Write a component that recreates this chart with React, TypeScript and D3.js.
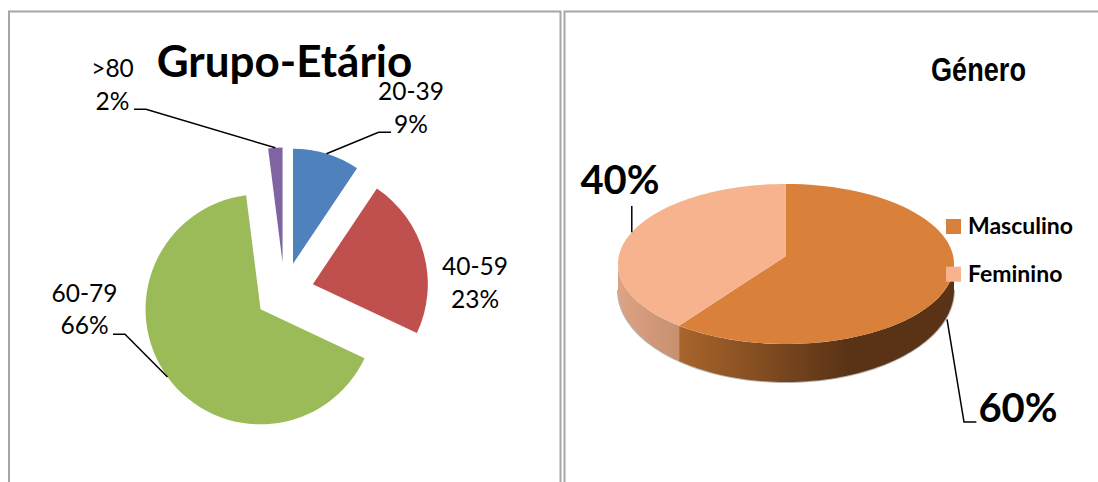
import React, { useEffect, useRef } from 'react';
import * as d3 from 'd3';

// left pie
const ageGroups = ['20-39', '40-59', '60-79', '>80'];
const ageValues = [9.4, 22.6, 66, 2];
const ageLabels = ['9%', '23%', '66%', '2%'];
const ageColors = ['#4f81bd', '#c0504d', '#9bbb59', '#8064a2'];

// right pie
const genders = ['Masculino', 'Feminino'];
const genderValues = [60, 40];
const genderLabels = ['60%', '40%'];
const genderColors = ['#d9803a', '#f6b38d'];

const SANS = 'Lato, Carlito, sans-serif';

export default function App() {
	const svgRef = useRef<SVGSVGElement>(null);

	useEffect(() => {
		const $svg = d3.select(svgRef.current);
		$svg.selectAll('*').remove();
		const defs = $svg.append('defs');

		// frames
		const frame = d3.line();
		[[[9, 482], [9, 11.5], [560.5, 11.5], [560.5, 482]], [[564.5, 482], [564.5, 11.5], [1098, 11.5]]].forEach(pts => {
			$svg.append('path').attr('d', frame(pts as any)).attr('fill', 'none').attr('stroke', '#a6a6a6').attr('stroke-width', 2);
		});

		const addText = (txt, x, y, size, weight = 'normal', anchor = 'middle') =>
			$svg.append('text').text(txt).attr('x', x).attr('y', y)
				.attr('font-family', SANS).attr('font-size', size)
				.attr('font-weight', weight).attr('text-anchor', anchor).attr('fill', '#000');
		const addLeader = pts =>
			$svg.append('path').attr('d', d3.line()(pts)).attr('fill', 'none').attr('stroke', '#000').attr('stroke-width', 1.5);

		// ---- Grupo-Etario ----
		(() => {
			const center = [284.4, 292];
			const radius = 115;
			const explode = 29.5;
			const slices = d3.pie<number>().sort(null).value(d => d)(ageValues);
			const arc = d3.arc().innerRadius(0).outerRadius(radius);
			const labelPos = [
				{ x: 411, y1: 100, y2: 133, elbow: [[378.6, 132.3], [391, 132.3]] },
				{ x: 475, y1: 275, y2: 308, elbow: null },
				{ x: 84.5, y1: 302, y2: 334, elbow: [[125, 334.3], [113, 334.3]] },
				{ x: 112.5, y1: 77, y2: 110, elbow: [[146, 109.3], [134, 109.3]] },
			];

			slices.forEach((s, i) => {
				const mid = (s.startAngle + s.endAngle) / 2;
				const off = d3.pointRadial(mid, explode);
				const apex = [center[0] + off[0], center[1] + off[1]];
				$svg.append('path')
					.attr('d', arc(s as any))
					.attr('transform', `translate(${apex[0]},${apex[1]})`)
					.attr('fill', ageColors[i]);

				const pos = labelPos[i];
				addText(ageGroups[i], pos.x, pos.y1, 24.5);
				addText(ageLabels[i], pos.x, pos.y2, 24.5);
				if (pos.elbow) {
					const rim = d3.pointRadial(mid, radius);
					addLeader([[apex[0] + rim[0], apex[1] + rim[1]], ...pos.elbow]);
				}
			});

			addText('Grupo-Etário', 284.5, 77, 44, 'bold');
		})();

		// ---- Genero ----
		(() => {
			const cx = 786, cy = 264, rx = 168, ry = 80;
			const botCy = 290, botRy = 92;
			const persp = -0.1; // perspective: pie hub sits above the middle of the ellipse

			// pie angle -> angle on the projected ellipse
			const project = a => {
				const u = Math.sin(a), v = -Math.cos(a);
				const d = 1 + persp * v;
				const u2 = u * Math.sqrt(1 - persp * persp) / d;
				const v2 = (v + persp) / d;
				const t = Math.atan2(u2, -v2);
				return t < -1e-6 ? t + 2 * Math.PI : t;
			};
			const rimTop = t => [cx + rx * Math.sin(t), cy - ry * Math.cos(t)];
			const rimBot = t => [cx + rx * Math.sin(t), botCy - botRy * Math.cos(t)];
			const hub = [cx, cy + persp * ry];
			const sweep = (t0, t1) => d3.range(0, 81).map(k => t0 + (t1 - t0) * k / 80);

			const slices = d3.pie<number>().sort(null).value(d => d)(genderValues);
			const t0 = project(slices[0].startAngle);
			const tSplit = project(slices[0].endAngle);
			const tEnd = 2 * Math.PI;
			const right = Math.PI / 2, left = 3 * Math.PI / 2;
			const line = d3.line();

			const addGrad = (id, x1, x2, c1, c2) => {
				const g = defs.append('linearGradient').attr('id', id)
					.attr('gradientUnits', 'userSpaceOnUse')
					.attr('x1', x1).attr('x2', x2).attr('y1', 0).attr('y2', 0);
				g.append('stop').attr('offset', 0).attr('stop-color', c1);
				g.append('stop').attr('offset', 1).attr('stop-color', c2);
			};
			addGrad('wall-m', rimTop(tSplit)[0], 847, '#a9652b', '#5a3316');
			addGrad('wall-f', cx - rx, rimTop(tSplit)[0], '#dca385', '#c7906f');

			// soft shadow under the side wall
			$svg.append('path')
				.attr('d', line(sweep(right, left).map(rimBot) as any))
				.attr('fill', 'none').attr('stroke', '#b4b4b4').attr('stroke-width', 2);

			// 60% leader goes behind the wall
			const midM = project((slices[0].startAngle + slices[0].endAngle) / 2);
			const rimM = rimTop(midM);

			// side walls
			const wall = (a, b) => [...sweep(a, b).map(rimTop), ...sweep(a, b).reverse().map(rimBot)];
			$svg.append('path').attr('d', line(wall(right, tSplit) as any) + 'Z').attr('fill', 'url(#wall-m)');
			$svg.append('path').attr('d', line(wall(tSplit, left) as any) + 'Z').attr('fill', 'url(#wall-f)');

			// top faces
			[[t0, tSplit], [tSplit, tEnd]].forEach((r, i) => {
				$svg.append('path')
					.attr('d', line([hub, ...sweep(r[0], r[1]).map(rimTop)] as any) + 'Z')
					.attr('fill', genderColors[i]);
			});

			// leaders + value labels
			addLeader([[rimM[0] - 3, rimM[1] + 38], [964, 422], [976.4, 422]]);
			addText(genderLabels[0], 1018, 422, 40, 'bold');
			const rimF = rimTop(project((slices[1].startAngle + slices[1].endAngle) / 2));
			addLeader([[rimF[0], rimF[1]], [rimF[0], 206]]);
			addText(genderLabels[1], 620, 194, 40, 'bold');

			// legend
			const legendY = d3.scalePoint().domain(genders).range([219, 266.7]);
			genders.forEach((g, i) => {
				$svg.append('rect').attr('x', 946).attr('y', legendY(g))
					.attr('width', 15).attr('height', 15).attr('fill', genderColors[i]);
				addText(g, 968, legendY(g) + 15, 23, 'bold', 'start');
			});

			$svg.append('text').text('Género')
				.attr('x', 931).attr('y', 81)
				.attr('font-family', '"Liberation Sans", Arial, sans-serif')
				.attr('font-size', 34).attr('font-weight', 'bold')
				.attr('textLength', 95).attr('lengthAdjust', 'spacingAndGlyphs')
				.attr('fill', '#000');
		})();
	}, []);

	return (
		<svg
			ref={svgRef}
			width={1098}
			height={482}
			style={{ position: 'absolute', left: 0, top: 0, display: 'block', background: '#fff' }}
		/>
	);
}
